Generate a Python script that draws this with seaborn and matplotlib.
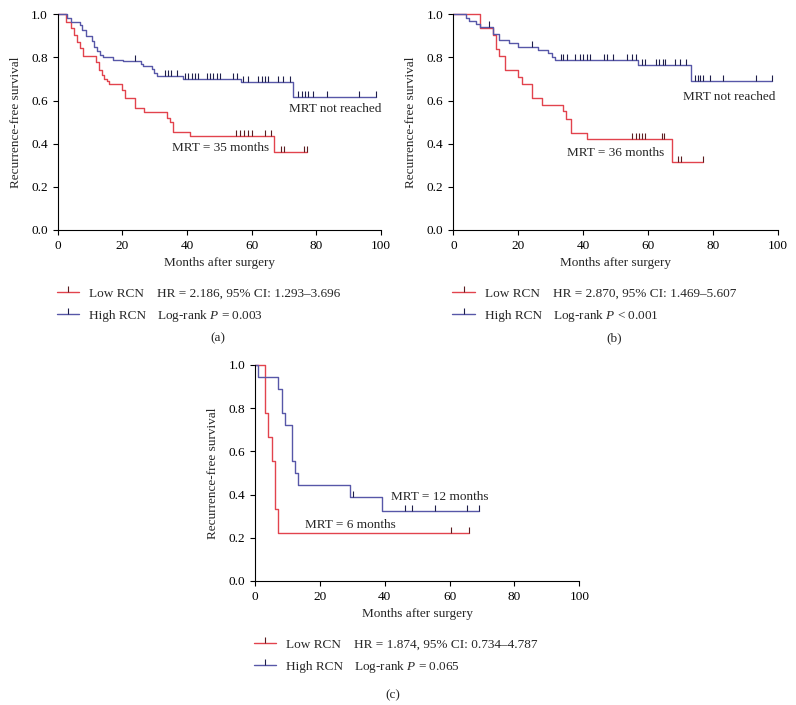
import numpy as np
import pandas as pd
import seaborn as sns
import matplotlib.pyplot as plt
from matplotlib.lines import Line2D

# panel (a)
a_low_t = [2.5, 4.0, 5.1, 5.9, 6.9, 7.7, 11.9, 12.8, 13.6, 14.3, 15.2, 16.0, 19.8, 20.8, 23.9, 26.7, 33.7, 34.7, 35.8, 40.9, 66.9]
a_low_s = [0.965, 0.935, 0.905, 0.87, 0.845, 0.805, 0.78, 0.74, 0.72, 0.70, 0.69, 0.675, 0.65, 0.61, 0.565, 0.545, 0.52, 0.50, 0.455, 0.435, 0.36]
a_low_cens = [55.1, 56.3, 57.5, 58.8, 60.0, 64.1, 65.9, 69.1, 70.0, 76.2, 77.0]
a_high_t = [2.8, 4.0, 6.9, 7.6, 8.6, 10.5, 11.3, 12.1, 13.0, 14.0, 17.2, 20.1, 25.7, 26.3, 29.1, 29.8, 30.6, 38.9, 56.6, 72.9]
a_high_s = [0.985, 0.965, 0.95, 0.925, 0.90, 0.875, 0.85, 0.83, 0.81, 0.80, 0.79, 0.785, 0.77, 0.76, 0.745, 0.73, 0.715, 0.70, 0.685, 0.615]
a_high_cens = [23.9, 33.2, 34.2, 35.1, 36.8, 39.4, 40.4, 41.4, 42.5, 43.5, 46.1, 47.1, 48.1, 49.2, 50.2, 54.3, 55.6,
               57.4, 59.0, 62.1, 63.1, 64.1, 65.2, 68.2, 69.8, 71.9, 74.2, 75.5, 76.5, 77.5, 79.1, 83.2, 93.2, 98.4]

# panel (b)
b_low_t = [8.2, 12.1, 13.2, 14.2, 15.9, 20.0, 21.1, 24.2, 27.2, 33.9, 34.7, 36.2, 41.1, 67.3]
b_low_s = [0.935, 0.905, 0.84, 0.805, 0.74, 0.71, 0.675, 0.61, 0.58, 0.55, 0.515, 0.45, 0.42, 0.315]
b_low_cens = [55.2, 56.2, 57.1, 58.2, 59.1, 64.2, 65.1, 69.2, 70.2, 77.1]
b_high_t = [3.8, 4.8, 7.0, 8.2, 12.3, 14.2, 17.3, 20.0, 26.2, 29.3, 30.3, 31.3, 57.0, 73.2]
b_high_s = [0.985, 0.97, 0.955, 0.94, 0.91, 0.88, 0.865, 0.85, 0.835, 0.82, 0.80, 0.79, 0.765, 0.69]
b_high_cens = [11.1, 24.4, 33.1, 33.9, 34.9, 37.5, 39.1, 40.1, 41.1, 42.1, 46.5, 47.5, 49.3, 53.4, 55.0, 56.2,
               58.1, 59.1, 62.5, 63.5, 64.5, 65.3, 68.3, 69.9, 71.7, 74.5, 75.3, 76.1, 77.1, 79.1, 83.2, 93.2, 98.2]

# panel (c)
c_low_t = [3.1, 4.1, 5.1, 6.2, 7.2]
c_low_s = [0.778, 0.667, 0.556, 0.333, 0.222]
c_low_cens = [60.3, 66.1]
c_high_t = [1.0, 7.2, 8.2, 9.2, 11.3, 12.3, 13.1, 29.3, 39.3]
c_high_s = [0.944, 0.889, 0.778, 0.722, 0.556, 0.5, 0.444, 0.389, 0.324]
c_high_cens = [30.1, 46.2, 48.3, 55.5, 65.3, 69.2]

stats = {
    "a": ("HR = 2.186, 95% CI: 1.293\u20133.696", "Log-rank $P$ = 0.003"),
    "b": ("HR = 2.870, 95% CI: 1.469\u20135.607", "Log-rank $P$ < 0.001"),
    "c": ("HR = 1.874, 95% CI: 0.734\u20134.787", "Log-rank $P$ = 0.065"),
}
mrt = {
    "a": [("MRT not reached", 71.6, 0.56), ("MRT = 35 months", 35.3, 0.382)],
    "b": [("MRT not reached", 70.7, 0.616), ("MRT = 36 months", 34.9, 0.356)],
    "c": [("MRT = 12 months", 41.8, 0.389), ("MRT = 6 months", 15.5, 0.259)],
}

RED = "#e2434d"
BLUE = "#5757a8"
RED_DK = "#5a1c20"
BLUE_DK = "#1e1e4a"

sns.set_theme(style="ticks")
plt.rcParams["font.family"] = ["Liberation Serif", "DejaVu Serif"]
plt.rcParams["mathtext.fontset"] = "custom"
plt.rcParams["mathtext.rm"] = "Liberation Serif"
plt.rcParams["mathtext.it"] = "Liberation Serif:italic"
FS = 9.5


def km_frame(times, surv, end):
    x = [0.0] + list(times) + [end]
    y = [1.0] + list(surv) + [surv[-1]]
    return pd.DataFrame({"month": x, "survival": y})


def surv_at(times, surv, t):
    idx = np.searchsorted(np.array(times), np.array(t), side="right") - 1
    vals = np.where(idx >= 0, np.array(surv)[np.clip(idx, 0, None)], 1.0)
    return vals


def draw_panel(ax, key, low, high):
    for (t, s, cens), col, dk in [(low, RED, RED_DK), (high, BLUE, BLUE_DK)]:
        df = km_frame(t, s, max(cens))
        sns.lineplot(data=df, x="month", y="survival", drawstyle="steps-post", estimator=None,
                     color=col, lw=1.0, ax=ax, clip_on=False)
        ax.plot(cens, surv_at(t, s, cens), linestyle="none", marker=2, markersize=4,
                markeredgewidth=0.8, color=dk, clip_on=False)

    ax.set_xlim(0, 100)
    ax.set_ylim(0, 1)
    ax.set_xticks(range(0, 101, 20))
    ax.set_yticks(np.arange(0, 1.01, 0.2))
    ax.set_yticklabels([f"{v:.1f}" for v in np.arange(0, 1.01, 0.2)])
    ax.tick_params(labelsize=FS, length=3.5, width=0.8, pad=3.5, colors="black")
    for sp in ["left", "bottom"]:
        ax.spines[sp].set_linewidth(0.8)
        ax.spines[sp].set_color("black")
    sns.despine(ax=ax)
    ax.set_xlabel("Months after surgery", fontsize=FS, labelpad=4)
    ax.set_ylabel("Recurrence-free survival", fontsize=FS, labelpad=7)

    for txt, x, y in mrt[key]:
        ax.text(x, y, txt, fontsize=FS, ha="left", va="center")

    handles = [Line2D([], [], color=RED, lw=1.0, marker=2, markersize=4, markeredgewidth=0.8, markeredgecolor=RED_DK),
               Line2D([], [], color=BLUE, lw=1.0, marker=2, markersize=4, markeredgewidth=0.8, markeredgecolor=BLUE_DK)]
    ax.legend(handles, ["Low RCN", "High RCN"], loc="upper left", bbox_to_anchor=(-0.003, -0.268),
              frameon=False, fontsize=FS, handlelength=1.7, handletextpad=0.75, labelspacing=0.72,
              borderpad=0, borderaxespad=0, numpoints=1)
    ax.text(0.306, -0.297, stats[key][0], transform=ax.transAxes, fontsize=FS, va="center")
    ax.text(0.306, -0.399, stats[key][1], transform=ax.transAxes, fontsize=FS, va="center")


fig = plt.figure(figsize=(7.96, 7.05), dpi=100)
ax_a = fig.add_axes([0.0725, 0.6738, 0.4061, 0.3059])
ax_b = fig.add_axes([0.5695, 0.6738, 0.4075, 0.3059])
ax_c = fig.add_axes([0.3204, 0.1759, 0.4074, 0.3064])

draw_panel(ax_a, "a", (a_low_t, a_low_s, a_low_cens), (a_high_t, a_high_s, a_high_cens))
draw_panel(ax_b, "b", (b_low_t, b_low_s, b_low_cens), (b_high_t, b_high_s, b_high_cens))
draw_panel(ax_c, "c", (c_low_t, c_low_s, c_low_cens), (c_high_t, c_high_s, c_high_cens))

fig.text(0.274, 0.5206, "(a)", fontsize=FS, ha="center", va="center")
fig.text(0.771, 0.5206, "(b)", fontsize=FS, ha="center", va="center")
fig.text(0.494, 0.0142, "(c)", fontsize=FS, ha="center", va="center")

fig.savefig("out.png", dpi=100)
